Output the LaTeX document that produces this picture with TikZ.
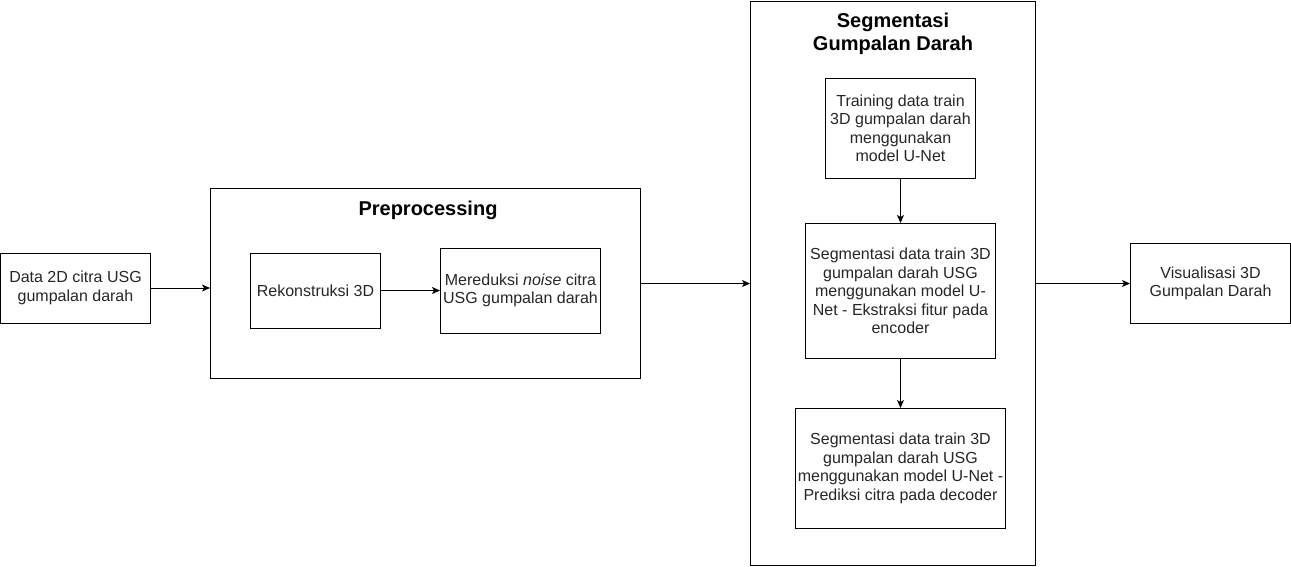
\documentclass[tikz,border=0pt]{standalone}
\usepackage{fontspec}
\setmainfont{Liberation Sans}
\usetikzlibrary{arrows.meta}
\begin{document}
\begin{tikzpicture}[x=1pt,y=-1pt,
  box/.style={draw=black,line width=1pt,inner sep=0pt,align=center,
    font=\fontsize{16}{18.5}\selectfont,text=black!85},
  title/.style={inner sep=0pt,align=center,font=\fontsize{20}{23.5}\selectfont\bfseries,text=black},
  arr/.style={line width=1pt,-{Stealth[length=8pt,width=7pt,inset=2pt]}}]
\useasboundingbox (0,0) rectangle (1291,566);
\node[box,minimum width=149.5pt,minimum height=70pt] (data) at (75.5,288) {Data 2D citra USG\\gumpalan darah};
\node[box,minimum width=430pt,minimum height=190pt] (prep) at (425.5,283.5) {};
\node[title] (preptitle) at (428,210) {Preprocessing};
\node[box,minimum width=130pt,minimum height=75pt] (rekon) at (315.5,290.5) {Rekonstruksi 3D};
\node[box,minimum width=160pt,minimum height=85pt] (mered) at (520.5,290.5) {Mereduksi \textit{noise} citra\\USG gumpalan darah};
\node[box,minimum width=285pt,minimum height=564pt] (seg) at (893,283) {};
\node[title] (segtitle) at (893,34) {Segmentasi\\Gumpalan Darah};
\node[box,minimum width=150pt,minimum height=100pt] (train) at (900.5,128.5) {Training data train\\3D gumpalan darah\\menggunakan\\model U-Net};
\node[box,minimum width=190pt,minimum height=135pt] (enc) at (900.5,291) {Segmentasi data train 3D\\gumpalan darah USG\\menggunakan model U-\\Net - Ekstraksi fitur pada\\encoder};
\node[box,minimum width=210pt,minimum height=120pt] (dec) at (900.5,468.5) {Segmentasi data train 3D\\gumpalan darah USG\\menggunakan model U-Net -\\Prediksi citra pada decoder};
\node[box,minimum width=160pt,minimum height=80pt] (vis) at (1210.5,283.5) {Visualisasi 3D\\Gumpalan Darah};
\draw[arr] (data.east) -- (data.east -| prep.west);
\draw[arr] (rekon.east) -- (mered.west);
\draw[arr] (prep.east) -- (prep.east -| seg.west);
\draw[arr] (seg.east |- vis.west) -- (vis.west);
\draw[arr] (train.south) -- (enc.north);
\draw[arr] (enc.south) -- (dec.north);
\end{tikzpicture}
\end{document}
